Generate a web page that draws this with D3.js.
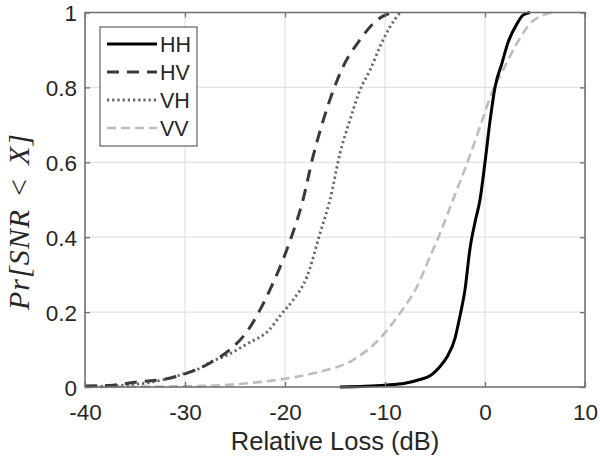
<!DOCTYPE html>
<html>
<head>
<meta charset="utf-8">
<script src="https://cdn.jsdelivr.net/npm/d3@7"></script>
<style>
  body { margin: 0; background: #fff; }
  text { font-family: "Liberation Sans", Arial, sans-serif; fill: #262626; }
</style>
</head>
<body>
<svg id="chart"></svg>
<script>
// x = relative loss (dB), p = Pr[SNR < X]
const hhX = [-14.5, -12, -10, -8, -6.5, -5.5, -4.5, -3.8, -3, -2.5, -2, -1.5, -1, -0.5, 0, 0.5, 1, 1.7, 2.3, 3.2, 3.8, 4.5];
const hhP = [0, 0.002, 0.005, 0.01, 0.02, 0.03, 0.055, 0.08, 0.13, 0.19, 0.26, 0.37, 0.44, 0.5, 0.6, 0.71, 0.8, 0.865, 0.92, 0.97, 0.993, 1];

const hvX = [-40, -37.2, -34.7, -32.2, -29.8, -27.5, -25.5, -23.8, -22.5, -21.5, -20.5, -19.5, -18.2, -17.2, -16.2, -15.2, -14.2, -12.5, -11.2, -10, -9];
const hvP = [0.003, 0.005, 0.014, 0.02, 0.037, 0.064, 0.1, 0.148, 0.206, 0.26, 0.32, 0.39, 0.5, 0.615, 0.71, 0.79, 0.855, 0.927, 0.97, 0.993, 1];

const vhX = [-40, -37.2, -32.2, -29.6, -28.5, -27.2, -26.2, -23.8, -21.5, -20.5, -19.2, -17.8, -16.5, -15.5, -14.5, -13.5, -12.5, -11.5, -10.5, -9.5, -8.5];
const vhP = [0.001, 0.003, 0.019, 0.04, 0.05, 0.07, 0.08, 0.115, 0.155, 0.19, 0.232, 0.295, 0.41, 0.5, 0.624, 0.713, 0.793, 0.846, 0.909, 0.962, 1];

const vvX = [-40, -34, -27.8, -23.8, -19.8, -16.5, -13.2, -10.5, -8.5, -6.8, -5.5, -4.5, -3.2, -1.8, -0.5, 0.8, 1.8, 3.2, 4.5, 5.8, 6.8];
const vvP = [0, 0.001, 0.003, 0.01, 0.023, 0.041, 0.072, 0.13, 0.197, 0.268, 0.348, 0.41, 0.5, 0.597, 0.695, 0.793, 0.846, 0.918, 0.97, 0.993, 1];

const seriesNames = ["HH", "HV", "VH", "VV"];
const xTicks = [-40, -30, -20, -10, 0, 10];
const yTicks = [0, 0.2, 0.4, 0.6, 0.8, 1];

const width = 600, height = 464;
const plotLeft = 85, plotRight = 585, plotTop = 12.5, plotBottom = 387;

const svg = d3.select("#chart")
    .attr("width", width)
    .attr("height", height);

const x = d3.scaleLinear().domain([-40, 10]).range([plotLeft, plotRight]);
const y = d3.scaleLinear().domain([0, 1]).range([plotBottom, plotTop]);

// grid
svg.append("g").selectAll("line")
    .data(xTicks)
    .join("line")
        .attr("x1", d => x(d)).attr("x2", d => x(d))
        .attr("y1", plotTop).attr("y2", plotBottom)
        .attr("stroke", "#e3e3e3").attr("stroke-width", 1.2);
svg.append("g").selectAll("line")
    .data(yTicks)
    .join("line")
        .attr("x1", plotLeft).attr("x2", plotRight)
        .attr("y1", d => y(d)).attr("y2", d => y(d))
        .attr("stroke", "#e3e3e3").attr("stroke-width", 1.2);

// curves
const styles = {
  HH: { color: "#000000", width: 3, dash: null },
  HV: { color: "#3a3a3a", width: 3, dash: "12,8" },
  VH: { color: "#666666", width: 2.8, dash: "2.2,3" },
  VV: { color: "#bdbdbd", width: 2.6, dash: "9,5" }
};
const seriesData = {
  HH: hhX.map((v, i) => [v, hhP[i]]),
  HV: hvX.map((v, i) => [v, hvP[i]]),
  VH: vhX.map((v, i) => [v, vhP[i]]),
  VV: vvX.map((v, i) => [v, vvP[i]])
};

const line = d3.line()
    .x(d => x(d[0]))
    .y(d => y(d[1]))
    .curve(d3.curveMonotoneX);

["VV", "VH", "HV", "HH"].forEach(name => {
  svg.append("path")
      .datum(seriesData[name])
      .attr("d", line)
      .attr("fill", "none")
      .attr("stroke", styles[name].color)
      .attr("stroke-width", styles[name].width)
      .attr("stroke-dasharray", styles[name].dash)
      .attr("stroke-linejoin", "round");
});

// box + axes
svg.append("rect")
    .attr("x", plotLeft).attr("y", plotTop)
    .attr("width", plotRight - plotLeft).attr("height", plotBottom - plotTop)
    .attr("fill", "none").attr("stroke", "#6e6e6e").attr("stroke-width", 1.5);

const xAxis = svg.append("g")
    .attr("transform", `translate(0,${plotBottom})`)
    .call(d3.axisBottom(x).tickValues(xTicks).tickSize(-5).tickPadding(17).tickFormat(d => d));
const yAxis = svg.append("g")
    .attr("transform", `translate(${plotLeft},0)`)
    .call(d3.axisLeft(y).tickValues(yTicks).tickSize(-5).tickPadding(8).tickFormat(d => d));
svg.append("g")
    .attr("transform", `translate(0,${plotTop})`)
    .call(d3.axisTop(x).tickValues(xTicks).tickSize(-5).tickFormat(""));
svg.append("g")
    .attr("transform", `translate(${plotRight},0)`)
    .call(d3.axisRight(y).tickValues(yTicks).tickSize(-5).tickFormat(""));

svg.selectAll(".domain").remove();
svg.selectAll(".tick line").attr("stroke", "#6e6e6e").attr("stroke-width", 1.3);
svg.selectAll(".tick text")
    .attr("font-size", 22.5)
    .attr("fill", "#262626")
    .style("font-family", "'Liberation Sans', Arial, sans-serif");
yAxis.selectAll(".tick text").attr("dy", "0.36em");

// axis labels
svg.append("text")
    .attr("x", (plotLeft + plotRight) / 2)
    .attr("y", 450)
    .attr("text-anchor", "middle")
    .attr("font-size", 25.5)
    .text("Relative Loss (dB)");

const yLabel = svg.append("text")
    .attr("transform", "translate(29,221.5) rotate(-90)")
    .attr("text-anchor", "middle")
    .attr("font-size", 30)
    .attr("letter-spacing", 1)
    .style("font-family", "'Liberation Serif', 'DejaVu Serif', serif")
    .style("font-style", "italic")
    .attr("fill", "#333");
yLabel.append("tspan").text("Pr[SNR");
yLabel.append("tspan").attr("dx", 13).style("font-style", "normal").text("<");
yLabel.append("tspan").attr("dx", 13).text("X]");

// legend
const legend = svg.append("g");
legend.append("rect")
    .attr("x", 100).attr("y", 27)
    .attr("width", 97).attr("height", 119)
    .attr("fill", "#fff").attr("stroke", "#6e6e6e").attr("stroke-width", 1.3);

const legendY = d3.scalePoint().domain(seriesNames).range([44, 128]);
seriesNames.forEach(name => {
  legend.append("line")
      .attr("x1", 107).attr("x2", 157)
      .attr("y1", legendY(name)).attr("y2", legendY(name))
      .attr("stroke", styles[name].color)
      .attr("stroke-width", styles[name].width)
      .attr("stroke-dasharray", styles[name].dash);
  legend.append("text")
      .attr("x", 160)
      .attr("y", legendY(name))
      .attr("dy", "0.36em")
      .attr("font-size", 21.5)
      .text(name);
});
</script>
</body>
</html>
